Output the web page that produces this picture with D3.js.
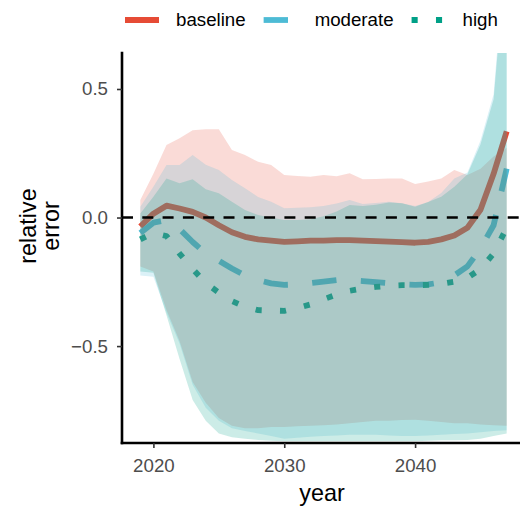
<!DOCTYPE html>
<html>
<head>
<meta charset="utf-8">
<script src="https://cdn.jsdelivr.net/npm/d3@7"></script>
<style>
  body { margin: 0; background: #fff; }
  svg { display: block; font-family: "Liberation Sans", Arial, sans-serif; }
</style>
</head>
<body>
<svg width="520" height="506"></svg>
<script>
var years = [2019, 2020, 2021, 2022, 2023, 2024, 2025, 2026, 2027, 2028,
             2029, 2030, 2031, 2032, 2033, 2034, 2035, 2036, 2037, 2038,
             2039, 2040, 2041, 2042, 2043, 2044, 2045, 2046, 2047];

// central estimates
var baselineMid = [-0.035, 0.015, 0.046, 0.035, 0.022, 0.0, -0.03, -0.057, -0.075, -0.085,
                   -0.09, -0.095, -0.093, -0.09, -0.09, -0.088, -0.088, -0.09, -0.092, -0.094,
                   -0.096, -0.098, -0.095, -0.085, -0.07, -0.04, 0.03, 0.17, 0.335];
var moderateMid = [-0.06, -0.02, -0.01, -0.045, -0.095, -0.14, -0.168, -0.198, -0.225, -0.243,
                   -0.256, -0.262, -0.26, -0.255, -0.249, -0.243, -0.244, -0.247, -0.251, -0.255,
                   -0.26, -0.262, -0.26, -0.252, -0.225, -0.19, -0.12, -0.03, 0.19];
var highMid = [-0.085, -0.06, -0.072, -0.14, -0.2, -0.255, -0.292, -0.325, -0.347, -0.36,
               -0.362, -0.363, -0.352, -0.338, -0.318, -0.3, -0.285, -0.276, -0.27, -0.265,
               -0.263, -0.263, -0.262, -0.258, -0.25, -0.235, -0.2, -0.14, -0.04];

// interval bounds
var baselineHi = [0.068, 0.17, 0.282, 0.308, 0.34, 0.343, 0.343, 0.263, 0.243, 0.217,
                  0.204, 0.165, 0.162, 0.159, 0.165, 0.161, 0.172, 0.149, 0.15, 0.152,
                  0.152, 0.13, 0.14, 0.152, 0.185, 0.165, 0.19, 0.237, 0.27];
var baselineLo = [-0.19, -0.21, -0.36, -0.48, -0.64, -0.72, -0.78, -0.81, -0.82, -0.82,
                  -0.815, -0.815, -0.812, -0.81, -0.808, -0.805, -0.8, -0.795, -0.79, -0.79,
                  -0.788, -0.787, -0.79, -0.795, -0.8, -0.8, -0.805, -0.808, -0.81];
var moderateHi = [0.042, 0.12, 0.204, 0.204, 0.243, 0.205, 0.185, 0.146, 0.114, 0.08,
                  0.061, 0.036, 0.038, 0.04, 0.045, 0.055, 0.068, 0.053, 0.057, 0.061,
                  0.056, 0.045, 0.06, 0.095, 0.152, 0.175, 0.3, 0.48, 1.1];
var moderateLo = [-0.225, -0.23, -0.37, -0.49, -0.65, -0.74, -0.79, -0.82, -0.83, -0.84,
                  -0.85, -0.86, -0.857, -0.853, -0.85, -0.848, -0.845, -0.845, -0.845, -0.848,
                  -0.85, -0.85, -0.848, -0.845, -0.842, -0.84, -0.835, -0.83, -0.827];
var highHi = [0.016, 0.081, 0.152, 0.133, 0.149, 0.11, 0.094, 0.061, 0.029, 0.01,
              0.0, -0.01, -0.01, -0.007, 0.005, 0.023, 0.049, 0.045, 0.05, 0.058,
              0.056, 0.042, 0.06, 0.081, 0.12, 0.168, 0.285, 0.46, 1.05];
var highLo = [-0.21, -0.215, -0.38, -0.55, -0.71, -0.79, -0.84, -0.855, -0.86, -0.865,
              -0.868, -0.87, -0.87, -0.87, -0.87, -0.87, -0.87, -0.87, -0.87, -0.87,
              -0.87, -0.87, -0.868, -0.866, -0.866, -0.865, -0.86, -0.85, -0.84];

var scenarios = ["baseline", "moderate", "high"];
var colors = ["#E64B35", "#4DBBD5", "#00A087"];
var xTicks = [2020, 2030, 2040];
var yTicks = [-0.5, 0.0, 0.5];

var series = [
  { name: scenarios[0], color: colors[0], mid: baselineMid, lo: baselineLo, hi: baselineHi, dash: null },
  { name: scenarios[1], color: colors[1], mid: moderateMid, lo: moderateLo, hi: moderateHi, dash: "24.4,24.4" },
  { name: scenarios[2], color: colors[2], mid: highMid, lo: highLo, hi: highHi, dash: "6.1,18.3" }
];

var svg = d3.select("svg");
var x = d3.scaleLinear().domain([2017.6, 2048.4]).range([122, 525]);
var y = d3.scaleLinear().domain([-0.877, 0.64]).range([443, 53]);

svg.append("defs").append("clipPath").attr("id", "panel")
  .append("rect").attr("x", 122).attr("y", 53).attr("width", 403).attr("height", 390);

var g = svg.append("g").attr("clip-path", "url(#panel)");

var line = function(s) {
  return d3.line().x(function(d, i) { return x(years[i]); }).y(function(d) { return y(d); })(s.mid);
};
var area = function(s) {
  return d3.area()
    .x(function(d, i) { return x(years[i]); })
    .y0(function(d, i) { return y(s.lo[i]); })
    .y1(function(d, i) { return y(s.hi[i]); })(s.mid);
};

// lines go underneath the ribbons
g.selectAll(".mid").data(series).enter().append("path")
  .attr("d", line)
  .attr("fill", "none")
  .attr("stroke", function(s) { return s.color; })
  .attr("stroke-width", 5.8)
  .attr("stroke-linejoin", "round")
  .attr("stroke-dasharray", function(s) { return s.dash; });

g.selectAll(".band").data(series).enter().append("path")
  .attr("d", area)
  .attr("fill", function(s) { return s.color; })
  .attr("fill-opacity", 0.2);

// zero reference
g.append("line")
  .attr("x1", 122).attr("x2", 525)
  .attr("y1", y(0)).attr("y2", y(0))
  .attr("stroke", "#000").attr("stroke-width", 2.6)
  .attr("stroke-dasharray", "11,9.3");

// axes
var yAxis = svg.append("g").attr("transform", "translate(122,0)")
  .call(d3.axisLeft(y).tickValues(yTicks).tickFormat(d3.format(".1f"))
    .tickSizeInner(5).tickSizeOuter(0).tickPadding(9));
var xAxis = svg.append("g").attr("transform", "translate(0,443)")
  .call(d3.axisBottom(x).tickValues(xTicks).tickFormat(d3.format("d"))
    .tickSizeInner(5).tickSizeOuter(0).tickPadding(11));

[yAxis, xAxis].forEach(function(a) {
  a.select(".domain").attr("stroke", "#000").attr("stroke-width", 2.6).attr("stroke-linecap", "square");
  a.selectAll(".tick line").attr("stroke", "#333").attr("stroke-width", 1.6);
  a.selectAll(".tick text").attr("fill", "#4D4D4D").style("font-size", "18.7px");
});
xAxis.select(".domain").attr("d", "M122,0H525");
yAxis.select(".domain").attr("d", "M0,53V443");

// axis titles
svg.append("text")
  .attr("x", 322).attr("y", 501)
  .attr("text-anchor", "middle")
  .style("font-size", "23.4px")
  .text("year");

var yt = svg.append("text")
  .attr("transform", "translate(36,226) rotate(-90)")
  .attr("text-anchor", "middle")
  .style("font-size", "23.4px");
yt.append("tspan").attr("x", 0).attr("y", 0).text("relative");
yt.append("tspan").attr("x", 0).attr("y", 23).text("error");

// legend
var legend = svg.append("g");
var lx = 125;
series.forEach(function(s) {
  legend.append("line")
    .attr("x1", lx).attr("x2", lx + 34)
    .attr("y1", 20).attr("y2", 20)
    .attr("stroke", s.color).attr("stroke-width", 5.8)
    .attr("stroke-dasharray", s.dash);
  var t = legend.append("text")
    .attr("x", lx + 51).attr("y", 26)
    .style("font-size", "18.7px")
    .text(s.name);
  lx += 51 + t.node().getComputedTextLength() + 18;
});
</script>
</body>
</html>
